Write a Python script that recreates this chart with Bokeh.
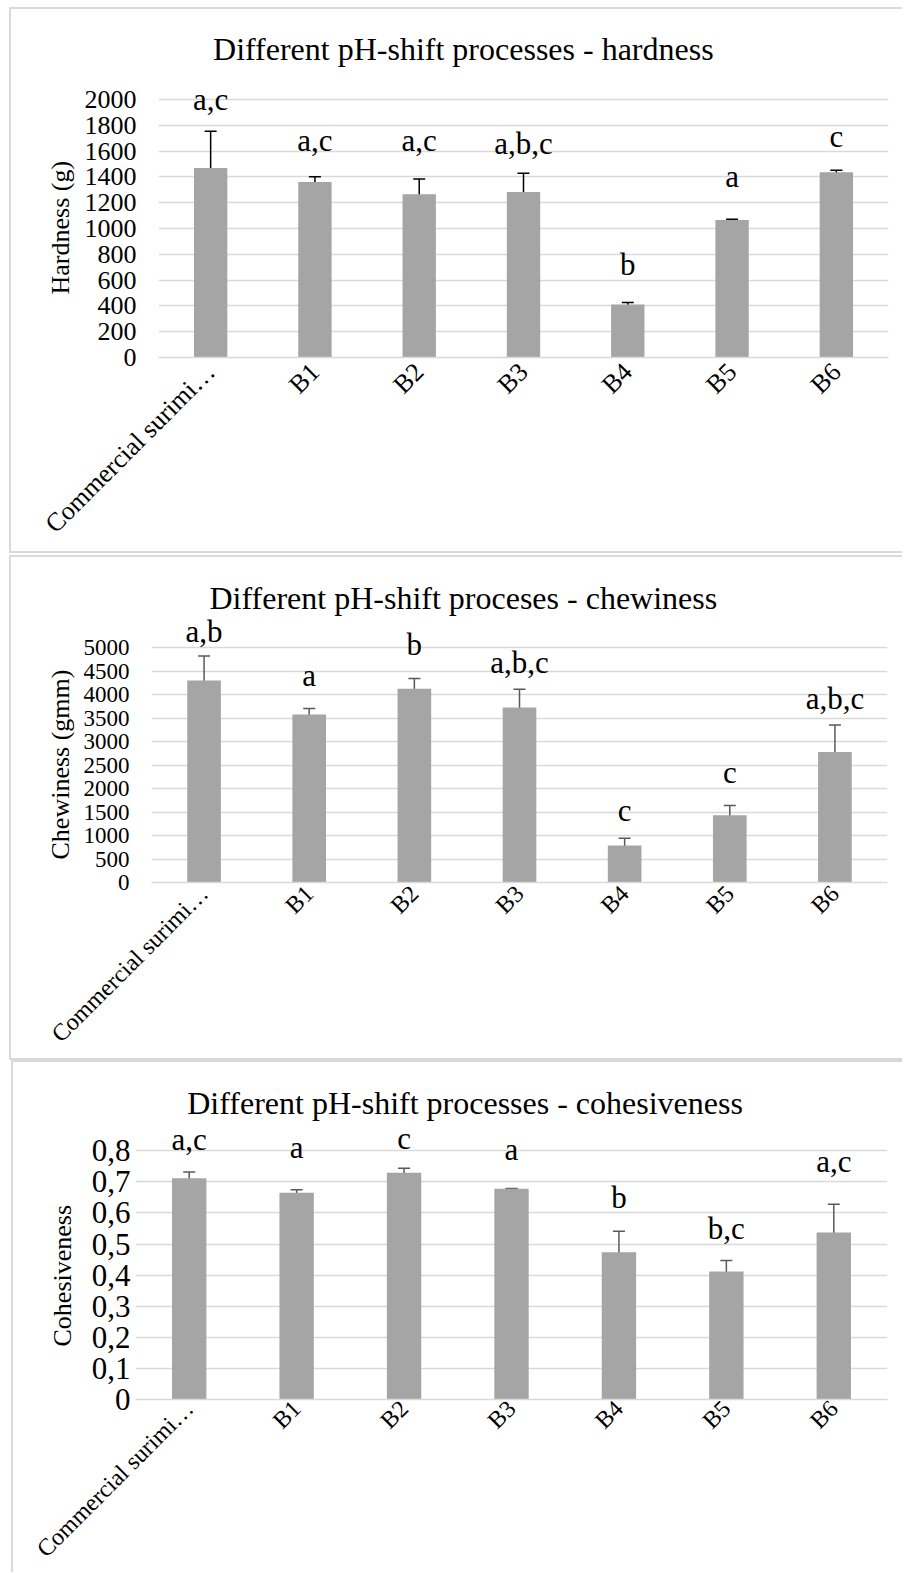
import math
from bokeh.plotting import figure
from bokeh.models import (ColumnDataSource, Range1d, FixedTicker, Whisker, TeeHead,
                          LabelSet, Label, FactorRange, CustomJSTickFormatter, Title)
from bokeh.embed import file_html
from bokeh.resources import INLINE
from bokeh.core.properties import value

# ---------------- data ----------------
categories = ["Commercial surimi…", "B1", "B2", "B3", "B4", "B5", "B6"]

hardness_mean = [1470, 1360, 1265, 1283, 410, 1066, 1437]
hardness_err = [285, 42, 118, 145, 17, 5, 15]
hardness_letters = ["a,c", "a,c", "a,c", "a,b,c", "b", "a", "c"]
hardness_letter_y = [1922, 1604, 1604, 1576, 643, 1325, 1635]
hardness_ticks = [0, 200, 400, 600, 800, 1000, 1200, 1400, 1600, 1800, 2000]

chewiness_mean = [4300, 3575, 4125, 3725, 790, 1430, 2780]
chewiness_err = [520, 130, 215, 390, 150, 210, 570]
chewiness_letters = ["a,b", "a", "b", "a,b,c", "c", "c", "a,b,c"]
chewiness_letter_y = [5129, 4181, 4838, 4461, 1304, 2121, 3694]
chewiness_ticks = [0, 500, 1000, 1500, 2000, 2500, 3000, 3500, 4000, 4500, 5000]

cohesiveness_mean = [0.712, 0.665, 0.729, 0.678, 0.474, 0.412, 0.537]
cohesiveness_err = [0.020, 0.010, 0.015, 0.001, 0.067, 0.035, 0.091]
cohesiveness_letters = ["a,c", "a", "c", "a", "b", "b,c", "a,c"]
cohesiveness_letter_y = [0.802, 0.777, 0.807, 0.771, 0.616, 0.517, 0.732]
cohesiveness_ticks = [0, 0.1, 0.2, 0.3, 0.4, 0.5, 0.6, 0.7, 0.8]

FONT = "Liberation Serif"
BAR = "#a5a5a5"
GRID = "#d9d9d9"


def make_panel(title, ylabel, means, errs, letters, letter_y, ticks, y_end,
               width, height, mb_left, mb_bottom, mb_right,
               title_x, title_y, ylabel_offset, ylabel_standoff,
               whisker_color, tick_size, tick_standoff, xtick_size, xtick_standoff,
               styles, comma=False):
    src = ColumnDataSource(dict(
        cat=categories, mean=means,
        upper=[m + e for m, e in zip(means, errs)],
        lower=[m - e for m, e in zip(means, errs)],
        letters=letters, ly=letter_y))
    p = figure(x_range=FactorRange(factors=categories),
               y_range=Range1d(0, y_end), title=None,
               width=width, height=height, output_backend="svg",
               toolbar_location=None,
               min_border_left=mb_left, min_border_top=0,
               min_border_bottom=mb_bottom, min_border_right=mb_right)
    p.styles = styles
    p.outline_line_color = None
    p.background_fill_color = "white"
    p.border_fill_color = "white"

    p.vbar(x="cat", top="mean", width=0.32, source=src,
           fill_color=BAR, line_color=None)

    whisk = Whisker(base="cat", upper="upper", lower="lower", source=src,
                    line_color=whisker_color, line_width=1.5,
                    upper_head=TeeHead(size=12, line_color=whisker_color, line_width=1.5),
                    lower_head=TeeHead(size=12, line_color=whisker_color, line_width=1.5))
    p.add_layout(whisk)

    p.add_layout(LabelSet(x="cat", y="ly", text="letters", source=src,
                          text_align="center", text_baseline="alphabetic",
                          text_font=value(FONT), text_font_size="31px",
                          text_color="black"))

    p.add_layout(Label(x=title_x, y=title_y, text=title, text_align="center",
                       text_baseline="middle", text_font=FONT,
                       text_font_size="32px", text_color="black"))

    # y axis title, as a side title so it can sit outside the plot frame
    p.add_layout(Title(text=ylabel, align="left", offset=ylabel_offset,
                       standoff=ylabel_standoff,
                       text_font=FONT, text_font_size="26px",
                       text_font_style="normal", text_color="black"), "left")

    # axes
    p.yaxis.ticker = FixedTicker(ticks=ticks)
    if comma:
        p.yaxis.formatter = CustomJSTickFormatter(
            code='return tick === 0 ? "0" : tick.toFixed(1).replace(".", ",");')
    p.yaxis.axis_line_color = None
    p.yaxis.major_tick_line_color = None
    p.yaxis.minor_tick_line_color = None
    p.yaxis.major_tick_out = 0
    p.yaxis.major_tick_in = 0
    p.yaxis.minor_tick_out = 0
    p.yaxis.major_label_standoff = tick_standoff
    p.yaxis.major_label_text_font = FONT
    p.yaxis.major_label_text_font_size = tick_size
    p.yaxis.major_label_text_color = "black"

    p.xaxis.axis_line_color = GRID
    p.xaxis.axis_line_width = 1.5
    p.xaxis.major_tick_line_color = None
    p.xaxis.minor_tick_line_color = None
    p.xaxis.major_tick_out = 0
    p.xaxis.major_tick_in = 0
    p.xaxis.minor_tick_out = 0
    p.xaxis.major_label_orientation = math.pi / 4
    p.xaxis.major_label_standoff = xtick_standoff
    p.xaxis.major_label_text_font = FONT
    p.xaxis.major_label_text_font_size = xtick_size
    p.xaxis.major_label_text_color = "black"

    p.xgrid.grid_line_color = None
    p.ygrid.grid_line_color = GRID
    p.ygrid.grid_line_width = 1.5
    return p


border = "2px solid " + GRID

p1 = make_panel("Different pH-shift processes - hardness", "Hardness (g)",
                hardness_mean, hardness_err, hardness_letters, hardness_letter_y,
                hardness_ticks, 2698, 893, 546, 147, 198, 16,
                2.923, 2394, 63, 14, "#000000", "26px", 22, "26px", 10,
                {"border-top": border, "border-left": border, "border-bottom": border,
                 "margin-left": "9px", "margin-top": "7px"})

p2 = make_panel("Different pH-shift proceses - chewiness", "Chewiness (gmm)",
                chewiness_mean, chewiness_err, chewiness_letters, chewiness_letter_y,
                chewiness_ticks, 6918, 893, 505, 140, 180, 17,
                2.966, 6065, 23, 12, "#595959", "23px", 22, "24px", 7,
                {"border-top": border, "border-left": border, "border-bottom": border,
                 "margin-left": "9px", "margin-top": "2px"})

p3 = make_panel("Different pH-shift processes - cohesiveness", "Cohesiveness",
                cohesiveness_mean, cohesiveness_err, cohesiveness_letters,
                cohesiveness_letter_y, cohesiveness_ticks, 1.0839, 891, 512, 122, 174, 17,
                3.068, 0.955, 53, 24, "#595959", "31px", 5, "24px", 5,
                {"border-top": border, "border-left": border,
                 "margin-left": "11px", "margin-top": "0px"}, comma=True)

open("out.html", "w").write(file_html([p1, p2, p3], INLINE))
